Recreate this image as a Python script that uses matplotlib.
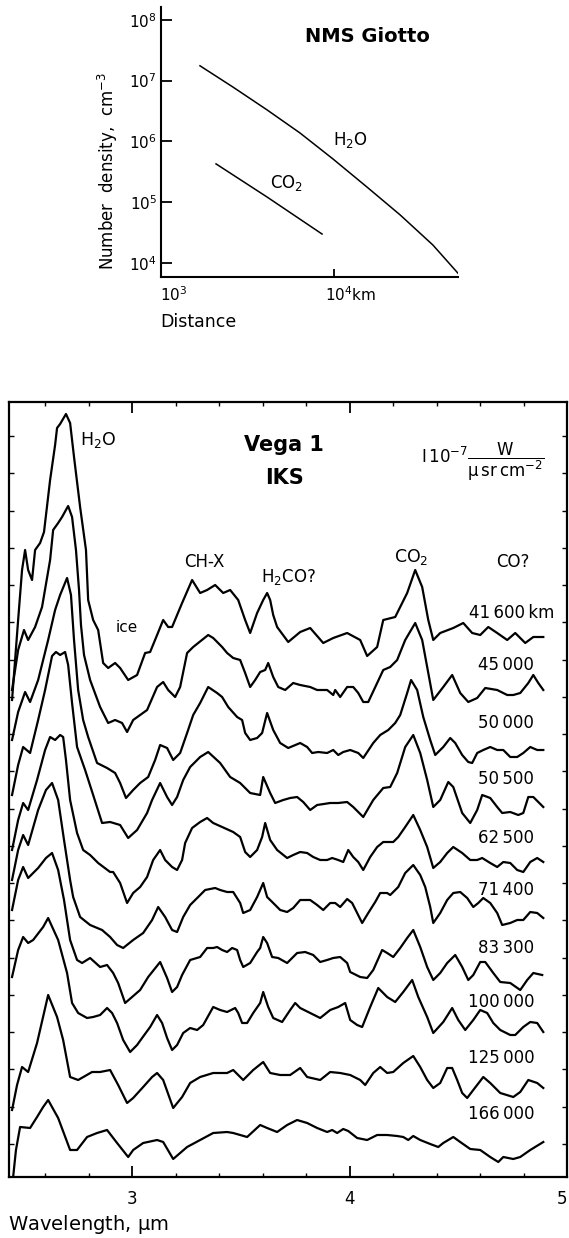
import matplotlib
matplotlib.use("Agg")
import matplotlib.pyplot as plt
import matplotlib.ticker as mticker
import numpy as np

plt.rcParams['font.family'] = ['DejaVu Sans']
plt.rcParams['mathtext.default'] = 'regular'

# ---------------- NMS Giotto: number density vs distance (km, cm^-3)
h2o_dist = [1680, 2610, 4100, 6350, 9860, 15500, 24100, 37300, 52100]
h2o_dens = [1.75e7, 7.8e6, 3.3e6, 1.38e6, 5.15e5, 1.78e5, 6.2e4, 1.98e4, 6.8e3]
co2_dist = [2080, 4100, 8530]
co2_dens = [4.27e5, 1.22e5, 3.0e4]

# ---------------- Vega 1 IKS spectra (wavelength um, intensity with display offset)
wl_41600 = [2.448, 2.476, 2.494, 2.508, 2.522, 2.540, 2.554, 2.577, 2.595, 2.623, 2.646, 2.655, 2.669,
            2.696, 2.715, 2.733, 2.761, 2.788, 2.798, 2.821, 2.844, 2.867, 2.890, 2.922, 2.945, 2.982,
            3.023, 3.060, 3.083, 3.115, 3.143, 3.166, 3.184, 3.230, 3.276, 3.313, 3.345, 3.382, 3.419,
            3.451, 3.488, 3.520, 3.543, 3.575, 3.603, 3.621, 3.635, 3.649, 3.667, 3.718, 3.773, 3.819,
            3.879, 3.925, 3.989, 4.049, 4.081, 4.127, 4.155, 4.210, 4.265, 4.302, 4.334, 4.362, 4.385,
            4.417, 4.477, 4.523, 4.564, 4.601, 4.638, 4.679, 4.725, 4.762, 4.808, 4.845, 4.891]
int_41600 = [48.0, 56.0, 61.0, 63.0, 61.0, 60.0, 63.0, 63.7, 64.8, 70.0, 73.5, 75.2, 75.6,
             76.6, 75.7, 72.3, 67.3, 63.0, 58.0, 56.0, 55.0, 51.7, 51.2, 51.7, 51.2, 50.0,
             50.5, 52.7, 52.8, 54.5, 56.0, 55.3, 55.3, 57.7, 60.0, 58.7, 59.0, 59.5, 58.7,
             59.0, 58.0, 56.0, 54.7, 56.7, 58.0, 58.7, 58.0, 56.5, 55.3, 53.8, 54.8, 55.2,
             53.7, 54.2, 54.7, 54.0, 52.4, 53.3, 56.0, 56.3, 58.7, 61.0, 59.3, 56.0, 54.0,
             54.7, 55.2, 55.7, 54.7, 54.5, 55.3, 54.7, 54.0, 54.7, 53.7, 54.3, 54.3]

wl_45000 = [2.448, 2.476, 2.503, 2.522, 2.554, 2.586, 2.623, 2.637, 2.660, 2.678, 2.706, 2.724, 2.742,
            2.756, 2.765, 2.779, 2.807, 2.853, 2.890, 2.922, 2.954, 2.977, 3.005, 3.037, 3.069, 3.115,
            3.143, 3.166, 3.198, 3.221, 3.253, 3.281, 3.304, 3.350, 3.373, 3.414, 3.437, 3.465, 3.497,
            3.520, 3.543, 3.566, 3.589, 3.612, 3.626, 3.649, 3.672, 3.704, 3.741, 3.773, 3.819, 3.851,
            3.897, 3.925, 3.934, 3.957, 3.989, 4.017, 4.040, 4.063, 4.086, 4.127, 4.155, 4.187, 4.219,
            4.256, 4.302, 4.334, 4.357, 4.385, 4.431, 4.472, 4.509, 4.546, 4.587, 4.624, 4.679, 4.725,
            4.753, 4.785, 4.822, 4.845, 4.868, 4.891]
int_45000 = [49.0, 53.0, 55.0, 54.0, 55.3, 57.3, 62.0, 65.0, 65.7, 66.3, 67.4, 66.3, 63.0,
             59.0, 55.5, 52.5, 50.0, 47.3, 45.7, 46.0, 45.7, 44.8, 46.0, 46.5, 47.0, 49.3,
             49.8, 49.0, 48.3, 49.3, 52.7, 53.3, 53.7, 54.5, 54.2, 53.3, 52.7, 52.2, 52.0,
             50.7, 49.3, 50.0, 50.8, 51.0, 51.7, 50.3, 49.3, 49.0, 49.7, 49.5, 49.3, 49.0,
             49.0, 48.5, 49.0, 48.3, 49.3, 49.3, 48.7, 47.8, 47.8, 49.7, 51.0, 51.3, 52.0,
             54.0, 55.7, 54.0, 51.3, 48.0, 49.3, 50.5, 48.7, 47.8, 48.2, 49.2, 49.0, 48.5,
             48.5, 48.7, 49.7, 50.5, 49.7, 49.0]

wl_50000 = [2.448, 2.476, 2.508, 2.531, 2.568, 2.614, 2.646, 2.669, 2.701, 2.719, 2.733, 2.752, 2.775,
            2.798, 2.839, 2.885, 2.922, 2.945, 2.972, 3.005, 3.037, 3.074, 3.106, 3.129, 3.161, 3.189,
            3.221, 3.253, 3.281, 3.313, 3.350, 3.391, 3.414, 3.442, 3.483, 3.506, 3.520, 3.543, 3.575,
            3.598, 3.621, 3.649, 3.681, 3.718, 3.773, 3.805, 3.828, 3.856, 3.897, 3.925, 3.948, 3.971,
            4.003, 4.040, 4.063, 4.109, 4.141, 4.178, 4.210, 4.233, 4.265, 4.283, 4.311, 4.339, 4.371,
            4.394, 4.431, 4.463, 4.486, 4.518, 4.546, 4.564, 4.587, 4.615, 4.647, 4.679, 4.707, 4.739,
            4.771, 4.799, 4.831, 4.863, 4.891]
int_50000 = [44.0, 46.8, 48.8, 47.8, 50.0, 54.0, 57.0, 58.5, 60.2, 58.5, 54.0, 49.0, 46.0,
             44.3, 41.7, 41.2, 40.7, 39.7, 38.2, 39.0, 39.7, 40.3, 42.0, 43.5, 43.2, 42.0,
             42.7, 44.7, 46.5, 47.7, 49.3, 48.7, 48.3, 47.3, 46.3, 46.0, 44.7, 44.0, 44.2,
             44.7, 46.7, 45.0, 43.7, 43.2, 43.7, 43.3, 42.7, 42.8, 42.7, 43.0, 42.5, 42.8,
             43.0, 42.7, 42.2, 43.7, 44.5, 45.0, 45.7, 46.5, 48.7, 50.0, 49.0, 46.3, 44.0,
             42.5, 43.3, 44.2, 43.7, 42.5, 41.8, 41.7, 42.7, 43.0, 43.3, 43.0, 43.0, 42.3,
             42.3, 42.7, 43.3, 43.0, 43.0]

wl_50500 = [2.448, 2.476, 2.499, 2.531, 2.568, 2.600, 2.632, 2.650, 2.669, 2.692, 2.706, 2.724, 2.747,
            2.784, 2.821, 2.862, 2.899, 2.945, 2.982, 3.023, 3.069, 3.092, 3.129, 3.161, 3.184, 3.207,
            3.235, 3.267, 3.313, 3.350, 3.405, 3.451, 3.497, 3.543, 3.589, 3.603, 3.635, 3.658, 3.695,
            3.727, 3.759, 3.787, 3.819, 3.851, 3.911, 3.948, 3.989, 4.017, 4.063, 4.109, 4.155, 4.187,
            4.219, 4.256, 4.293, 4.325, 4.357, 4.385, 4.417, 4.454, 4.477, 4.518, 4.555, 4.587, 4.610,
            4.647, 4.679, 4.702, 4.739, 4.776, 4.799, 4.822, 4.845, 4.868, 4.891]
int_50500 = [38.5, 41.5, 43.3, 42.7, 46.0, 49.0, 52.4, 52.8, 52.5, 52.8, 51.5, 47.7, 43.3,
             41.0, 38.5, 35.7, 35.8, 35.5, 34.2, 35.0, 36.7, 38.0, 39.7, 38.3, 37.5, 38.3,
             40.0, 41.3, 42.3, 42.8, 41.7, 40.3, 39.7, 38.7, 38.5, 40.3, 38.7, 37.7, 38.0,
             38.2, 38.3, 37.8, 37.0, 37.5, 37.7, 37.7, 37.8, 37.3, 36.3, 38.0, 39.2, 39.3,
             40.7, 43.3, 44.5, 42.7, 40.0, 37.3, 38.0, 39.8, 39.3, 36.7, 35.7, 37.0, 38.5,
             38.2, 37.3, 36.7, 36.8, 36.5, 36.7, 38.3, 38.3, 37.8, 37.3]

wl_62500 = [2.448, 2.476, 2.499, 2.522, 2.563, 2.600, 2.623, 2.646, 2.669, 2.683, 2.696, 2.715, 2.747,
            2.775, 2.807, 2.844, 2.899, 2.913, 2.945, 2.977, 3.005, 3.037, 3.069, 3.097, 3.129, 3.152,
            3.184, 3.207, 3.230, 3.244, 3.276, 3.313, 3.345, 3.373, 3.414, 3.465, 3.497, 3.520, 3.543,
            3.575, 3.598, 3.612, 3.635, 3.667, 3.713, 3.741, 3.773, 3.805, 3.833, 3.865, 3.897, 3.920,
            3.948, 3.971, 3.994, 4.017, 4.040, 4.063, 4.095, 4.127, 4.155, 4.201, 4.224, 4.256, 4.293,
            4.325, 4.357, 4.385, 4.417, 4.449, 4.477, 4.518, 4.555, 4.587, 4.610, 4.647, 4.679, 4.707,
            4.739, 4.771, 4.799, 4.831, 4.863, 4.891]
int_62500 = [33.0, 36.0, 37.7, 37.0, 40.0, 43.0, 44.3, 44.0, 44.5, 44.3, 42.0, 38.0, 34.7,
             33.0, 32.5, 31.7, 30.8, 30.8, 29.7, 27.7, 28.7, 29.3, 30.3, 32.0, 33.0, 32.0,
             31.3, 31.0, 32.0, 33.7, 35.2, 35.8, 36.2, 35.7, 35.3, 34.8, 34.3, 32.8, 32.3,
             33.0, 34.3, 35.7, 34.0, 33.0, 32.2, 32.5, 32.8, 32.7, 32.3, 32.0, 32.0, 32.2,
             32.0, 31.8, 33.0, 32.3, 31.8, 31.0, 32.3, 33.3, 33.8, 33.8, 34.3, 35.3, 36.5,
             35.0, 33.3, 31.2, 31.8, 32.7, 33.3, 32.7, 32.0, 32.0, 32.2, 31.7, 31.3, 31.8,
             31.7, 31.0, 30.8, 31.8, 32.2, 31.8]

wl_71400 = [2.448, 2.476, 2.499, 2.522, 2.568, 2.604, 2.632, 2.660, 2.687, 2.715, 2.729, 2.761, 2.807,
            2.862, 2.899, 2.931, 2.959, 3.005, 3.051, 3.092, 3.120, 3.152, 3.184, 3.207, 3.235, 3.267,
            3.304, 3.336, 3.382, 3.405, 3.437, 3.465, 3.497, 3.511, 3.543, 3.575, 3.603, 3.621, 3.649,
            3.681, 3.713, 3.741, 3.773, 3.819, 3.851, 3.879, 3.911, 3.934, 3.957, 3.989, 4.012, 4.035,
            4.058, 4.086, 4.118, 4.141, 4.173, 4.187, 4.224, 4.256, 4.293, 4.325, 4.348, 4.371, 4.385,
            4.417, 4.449, 4.477, 4.509, 4.541, 4.569, 4.592, 4.615, 4.647, 4.679, 4.702, 4.739, 4.771,
            4.799, 4.831, 4.863, 4.891]
int_71400 = [30.0, 33.0, 34.5, 33.5, 37.0, 39.0, 39.7, 38.0, 34.0, 30.0, 28.3, 26.3, 25.5,
             25.0, 24.3, 23.5, 23.2, 24.0, 24.7, 26.0, 27.3, 26.3, 25.0, 24.8, 26.3, 27.5,
             28.3, 29.0, 29.2, 29.0, 28.8, 28.8, 27.7, 26.7, 27.0, 28.3, 29.7, 28.3, 27.7,
             27.0, 26.8, 27.2, 28.0, 28.0, 27.5, 27.0, 27.7, 27.7, 27.3, 28.1, 27.7, 26.7,
             25.7, 26.7, 27.8, 28.7, 28.7, 28.5, 29.3, 30.7, 31.5, 30.5, 29.3, 27.3, 25.7,
             26.7, 28.0, 28.7, 28.8, 28.2, 27.3, 27.7, 28.2, 27.7, 26.7, 25.5, 25.7, 26.0,
             26.0, 26.8, 26.7, 26.2]

wl_83300 = [2.448, 2.476, 2.499, 2.522, 2.568, 2.604, 2.632, 2.660, 2.687, 2.715, 2.747, 2.770, 2.807,
            2.853, 2.885, 2.913, 2.936, 2.968, 3.000, 3.037, 3.074, 3.129, 3.161, 3.184, 3.207, 3.230,
            3.267, 3.313, 3.345, 3.373, 3.391, 3.414, 3.437, 3.460, 3.483, 3.497, 3.511, 3.543, 3.575,
            3.589, 3.603, 3.621, 3.644, 3.672, 3.713, 3.759, 3.796, 3.833, 3.865, 3.897, 3.925, 3.957,
            3.989, 4.003, 4.049, 4.081, 4.109, 4.150, 4.173, 4.201, 4.233, 4.265, 4.293, 4.325, 4.357,
            4.385, 4.417, 4.449, 4.486, 4.518, 4.546, 4.569, 4.601, 4.624, 4.661, 4.693, 4.739, 4.785,
            4.817, 4.845, 4.886]
int_83300 = [27.0, 30.0, 31.3, 30.2, 31.2, 32.2, 32.7, 31.0, 28.0, 24.0, 22.0, 21.7, 22.2,
             21.3, 21.5, 20.7, 19.7, 17.7, 18.3, 19.0, 20.3, 21.8, 20.2, 18.8, 19.3, 20.5,
             22.0, 22.3, 23.2, 23.2, 23.3, 23.0, 22.8, 23.2, 23.0, 22.0, 21.3, 21.7, 22.8,
             23.2, 24.3, 23.7, 22.3, 22.2, 21.7, 22.7, 22.8, 22.5, 21.8, 22.0, 22.2, 22.3,
             21.7, 20.8, 20.3, 20.2, 21.0, 23.0, 22.7, 22.3, 23.2, 24.2, 25.0, 23.3, 21.3,
             20.0, 20.7, 21.7, 22.5, 21.3, 20.0, 20.5, 21.8, 21.8, 20.7, 19.8, 19.7, 19.0,
             20.0, 20.7, 20.5]

wl_100000 = [2.448, 2.476, 2.499, 2.522, 2.545, 2.591, 2.614, 2.660, 2.701, 2.724, 2.752, 2.793, 2.821,
             2.853, 2.885, 2.908, 2.931, 2.959, 2.991, 3.023, 3.046, 3.083, 3.115, 3.138, 3.161, 3.184,
             3.207, 3.235, 3.267, 3.299, 3.327, 3.373, 3.405, 3.437, 3.474, 3.488, 3.506, 3.529, 3.557,
             3.589, 3.603, 3.626, 3.649, 3.690, 3.727, 3.750, 3.773, 3.819, 3.865, 3.911, 3.948, 3.980,
             4.003, 4.035, 4.058, 4.095, 4.132, 4.173, 4.210, 4.247, 4.288, 4.316, 4.357, 4.385, 4.431,
             4.472, 4.500, 4.532, 4.569, 4.601, 4.633, 4.661, 4.693, 4.739, 4.762, 4.799, 4.831, 4.863,
             4.891]
int_100000 = [20.3, 23.0, 24.3, 23.7, 24.0, 25.3, 26.2, 24.0, 20.7, 17.7, 16.7, 16.2, 16.3,
              16.5, 17.2, 16.7, 15.7, 14.0, 12.8, 13.5, 14.2, 15.3, 16.5, 15.7, 14.2, 13.0,
              13.5, 14.7, 15.2, 15.0, 15.5, 17.3, 17.0, 16.8, 17.2, 16.7, 15.7, 15.7, 16.7,
              17.7, 18.8, 17.3, 16.2, 15.8, 17.0, 17.7, 17.2, 16.7, 16.2, 17.0, 17.3, 17.7,
              16.0, 15.5, 15.3, 17.3, 19.2, 18.3, 17.8, 18.8, 20.0, 18.3, 16.3, 14.7, 15.8,
              17.2, 16.0, 15.0, 16.0, 17.0, 16.7, 15.7, 15.0, 14.5, 14.5, 15.3, 15.8, 15.7,
              14.8]

wl_125000 = [2.448, 2.471, 2.494, 2.522, 2.563, 2.614, 2.655, 2.683, 2.715, 2.752, 2.816, 2.853, 2.899,
             2.936, 2.977, 3.005, 3.051, 3.092, 3.115, 3.143, 3.189, 3.230, 3.267, 3.313, 3.373, 3.437,
             3.465, 3.511, 3.557, 3.603, 3.635, 3.681, 3.727, 3.773, 3.805, 3.865, 3.911, 3.957, 4.003,
             4.049, 4.072, 4.109, 4.141, 4.173, 4.201, 4.247, 4.293, 4.325, 4.357, 4.385, 4.417, 4.449,
             4.472, 4.495, 4.518, 4.541, 4.569, 4.615, 4.647, 4.693, 4.753, 4.785, 4.822, 4.863, 4.891]
int_125000 = [7.0, 9.5, 11.3, 10.8, 13.7, 18.5, 16.3, 14.0, 10.3, 10.0, 10.8, 10.8, 11.0,
              9.5, 7.7, 8.2, 9.3, 10.3, 10.7, 10.0, 7.2, 8.3, 9.7, 10.3, 10.7, 10.7,
              11.0, 10.0, 11.0, 11.8, 10.7, 10.5, 10.5, 11.2, 10.3, 10.0, 10.8, 10.7, 10.5,
              10.0, 9.5, 10.7, 11.3, 10.7, 10.8, 11.7, 12.4, 11.3, 10.0, 9.2, 9.7, 11.2,
              11.2, 10.0, 8.7, 8.2, 9.0, 10.3, 9.7, 8.7, 8.3, 8.8, 10.0, 9.7, 9.2]

wl_166000 = [2.453, 2.466, 2.485, 2.531, 2.563, 2.591, 2.614, 2.660, 2.715, 2.747, 2.793, 2.839, 2.885,
             2.931, 2.982, 3.005, 3.051, 3.115, 3.143, 3.189, 3.253, 3.313, 3.373, 3.437, 3.465, 3.529,
             3.589, 3.621, 3.667, 3.713, 3.759, 3.805, 3.851, 3.897, 3.920, 3.943, 3.971, 3.994, 4.035,
             4.081, 4.127, 4.173, 4.219, 4.247, 4.270, 4.293, 4.325, 4.371, 4.408, 4.431, 4.477, 4.509,
             4.555, 4.601, 4.647, 4.684, 4.707, 4.753, 4.785, 4.831, 4.891]
int_166000 = [0.3, 3.0, 5.3, 5.2, 6.3, 7.3, 8.0, 6.2, 3.0, 3.0, 4.3, 4.7, 5.0,
              3.7, 2.3, 3.0, 3.7, 4.0, 3.8, 2.1, 3.3, 4.0, 4.7, 4.8, 4.7, 4.3,
              5.5, 5.2, 4.8, 5.5, 6.0, 5.7, 5.2, 4.8, 5.0, 4.7, 5.1, 4.9, 4.2,
              4.0, 4.5, 4.5, 4.4, 4.3, 4.0, 4.4, 4.0, 3.6, 3.3, 3.7, 4.3, 3.8,
              3.1, 3.0, 2.3, 1.8, 2.3, 2.1, 2.3, 3.0, 3.8]

spectra_wl = [wl_41600, wl_45000, wl_50000, wl_50500, wl_62500, wl_71400,
              wl_83300, wl_100000, wl_125000, wl_166000]
spectra_int = [int_41600, int_45000, int_50000, int_50500, int_62500, int_71400,
               int_83300, int_100000, int_125000, int_166000]
dist_labels = ['41\u2009600\u2009km', '45\u2009000', '50\u2009000', '50\u2009500', '62\u2009500',
               '71\u2009400', '83\u2009300', '100\u2009000', '125\u2009000', '166\u2009000']
label_y = [56.7, 51.5, 45.7, 40.1, 34.2, 29.0, 23.2, 17.8, 12.2, 6.6]

W, H = 569, 1238
fig = plt.figure(figsize=(W / 100, H / 100), dpi=100)

# ---------------- top panel
ax1 = fig.add_axes([161 / W, 1 - 277 / H, 297 / W, 270 / H])
ax1.plot(h2o_dist, h2o_dens, color='black', lw=1.1, solid_joinstyle='round')
ax1.plot(co2_dist, co2_dens, color='black', lw=1.1)
ax1.set_xscale('log')
ax1.set_yscale('log')
ax1.set_xlim(1e3, 5.21e4)
ax1.set_ylim(5.9e3, 1.62e8)
ax1.spines[['top', 'right']].set_visible(False)
for s in ['left', 'bottom']:
    ax1.spines[s].set_linewidth(1.5)
ax1.xaxis.set_minor_locator(mticker.NullLocator())
ax1.yaxis.set_minor_locator(mticker.NullLocator())
ax1.set_yticks([1e4, 1e5, 1e6, 1e7, 1e8])
ax1.set_yticklabels([r'$10^{4}$', r'$10^{5}$', r'$10^{6}$', r'$10^{7}$', r'$10^{8}$'])
ax1.set_xticks([1e3, 1e4])
ax1.set_xticklabels([])
ax1.tick_params(axis='y', direction='in', length=8, width=1.3, labelsize=11, pad=3)
ax1.tick_params(axis='x', direction='in', length=6, width=1.3)

ax1.text(0.694, 0.889, 'NMS Giotto', transform=ax1.transAxes, ha='center', va='center',
         fontsize=14, fontweight='bold')
ax1.text(0.636, 0.507, r'H$_2$O', transform=ax1.transAxes, ha='center', va='center', fontsize=12)
ax1.text(0.424, 0.348, r'CO$_2$', transform=ax1.transAxes, ha='center', va='center', fontsize=12)

fig.text(160 / W, 1 - 295 / H, r'$10^{3}$', ha='left', va='center', fontsize=11)
fig.text(325 / W, 1 - 295 / H, r'$10^{4}$km', ha='left', va='center', fontsize=11)
fig.text(160 / W, 1 - 322 / H, 'Distance', ha='left', va='center', fontsize=12.5)
fig.text(108 / W, 1 - 171 / H, r'Number  density,  cm$^{-3}$', rotation=90,
         ha='center', va='center', fontsize=12)

# ---------------- bottom panel
ax2 = fig.add_axes([9 / W, 1 - 1177 / H, 558 / W, 775 / H])
for wl, it in zip(spectra_wl, spectra_int):
    ax2.plot(wl, it, color='black', lw=1.6, solid_joinstyle='round')
ax2.set_xlim(2.434, 5.0)
ax2.set_ylim(0.3, 77.8)
for s in ax2.spines.values():
    s.set_linewidth(1.6)
ax2.set_xticks([3, 4, 5])
ax2.xaxis.set_minor_locator(mticker.MultipleLocator(0.2))
ax2.set_yticks(3.6 + 3.726 * np.arange(20))
ax2.set_yticklabels([])
ax2.tick_params(axis='x', which='major', direction='in', length=8, width=1.3,
                top=True, labelsize=12, pad=9)
ax2.tick_params(axis='x', which='minor', direction='in', length=3, width=1.0, top=True)
ax2.tick_params(axis='y', direction='in', length=3.5, width=1.0, right=True)
ax2.get_xticklabels()[-1].set_horizontalalignment('right')

ax2.text(2.761, 74.0, r'H$_2$O', ha='left', va='center', fontsize=12.5)
ax2.text(3.699, 73.5, 'Vega 1', ha='center', va='center', fontsize=15, fontweight='bold')
ax2.text(3.699, 70.2, 'IKS', ha='center', va='center', fontsize=15, fontweight='bold')
ax2.text(4.610, 71.8, r'$\mathrm{I}\,10^{-7}\dfrac{\mathrm{W}}{\mu\,\mathrm{sr\,cm}^{-2}}$',
         ha='center', va='center', fontsize=12)
ax2.text(3.331, 61.8, 'CH-X', ha='center', va='center', fontsize=12)
ax2.text(3.717, 60.3, r'H$_2$CO?', ha='center', va='center', fontsize=12)
ax2.text(4.283, 62.3, r'CO$_2$', ha='center', va='center', fontsize=12.5)
ax2.text(4.753, 61.8, 'CO?', ha='center', va='center', fontsize=12)
ax2.text(2.977, 55.3, 'ice', ha='center', va='center', fontsize=11)

for lab, y in zip(dist_labels, label_y):
    if 'km' in lab:
        ax2.text(4.550, y, lab, ha='left', va='center', fontsize=12)
    else:
        ax2.text(4.849, y, lab, ha='right', va='center', fontsize=12)

fig.text(8 / W, 1 - 1225 / H, r'Wavelength, $\mu$m', ha='left', va='center', fontsize=14)

fig.savefig('out.png', dpi=100)
